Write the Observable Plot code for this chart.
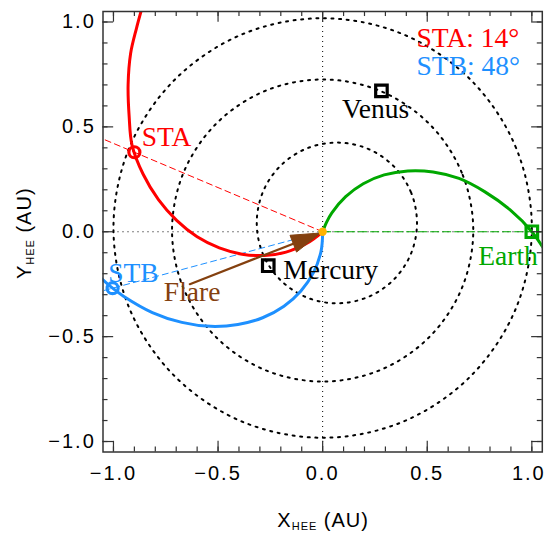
<!DOCTYPE html>
<html>
<head>
<meta charset="utf-8">
<script src="https://cdn.jsdelivr.net/npm/d3@7"></script>
<script src="https://cdn.jsdelivr.net/npm/@observablehq/plot@0.6"></script>
<style>
  body { margin: 0; background: #fff; }
  #chart svg { display: block; }
</style>
</head>
<body>
<div id="chart"></div>
<script>
// ---------------- data (HEE coordinates in AU) ----------------
const majorTicks = [-1.0, -0.5, 0.0, 0.5, 1.0];
const minorTicks = [-1.0, -0.9, -0.8, -0.7, -0.6, -0.5, -0.4, -0.3, -0.2, -0.1, 0.0,
                    0.1, 0.2, 0.3, 0.4, 0.5, 0.6, 0.7, 0.8, 0.9, 1.0];

// planetary orbits (dotted), points read along each orbit
const mercuryOrbitX = [0.451, 0.422, 0.339, 0.215, 0.068, -0.079, -0.203, -0.286, -0.315, -0.286, -0.203, -0.079, 0.068, 0.215, 0.339, 0.422];
const mercuryOrbitY = [0.042, 0.189, 0.313, 0.396, 0.425, 0.396, 0.313, 0.189, 0.042, -0.105, -0.229, -0.312, -0.341, -0.312, -0.229, -0.105];
const venusOrbitX = [0.720, 0.665, 0.509, 0.276, 0.000, -0.276, -0.509, -0.665, -0.720, -0.665, -0.509, -0.276, 0.000, 0.276, 0.509, 0.665];
const venusOrbitY = [0.006, 0.282, 0.515, 0.671, 0.726, 0.671, 0.515, 0.282, 0.006, -0.270, -0.503, -0.659, -0.714, -0.659, -0.503, -0.270];
const earthOrbitX = [1.000, 0.924, 0.707, 0.383, 0.000, -0.383, -0.707, -0.924, -1.000, -0.924, -0.707, -0.383, 0.000, 0.383, 0.707, 0.924];
const earthOrbitY = [0.018, 0.401, 0.725, 0.942, 1.018, 0.942, 0.725, 0.401, 0.018, -0.365, -0.689, -0.906, -0.982, -0.906, -0.689, -0.365];

// magnetic-field spirals from the Sun
const staSpiralX = [0, -0.039, -0.081, -0.175, -0.278, -0.385, -0.494, -0.600, -0.698, -0.785, -0.858, -0.911, -0.925, -0.930, -0.918, -0.890, -0.860];
const staSpiralY = [0, -0.031, -0.058, -0.097, -0.113, -0.107, -0.077, -0.024, 0.054, 0.153, 0.274, 0.412, 0.550, 0.700, 0.850, 0.970, 1.080];
const stbSpiralX = [0, -0.002, -0.009, -0.044, -0.104, -0.185, -0.287, -0.405, -0.535, -0.673, -0.814, -0.952, -1.004, -1.082];
const stbSpiralY = [0, -0.050, -0.100, -0.195, -0.282, -0.355, -0.410, -0.442, -0.451, -0.432, -0.385, -0.307, -0.269, -0.200];
const earthSpiralX = [0, 0.019, 0.044, 0.110, 0.194, 0.294, 0.407, 0.528, 0.652, 0.776, 0.895, 1.000, 1.092];
const earthSpiralY = [0, 0.046, 0.090, 0.167, 0.229, 0.271, 0.290, 0.285, 0.254, 0.190, 0.105, 0.000, -0.136];

// bodies
const planetNames = ["Mercury", "Venus", "Earth"];
const planetX = [-0.260, 0.281, 1.000];
const planetY = [-0.162, 0.672, 0.000];
const craftNames = ["STA", "STB"];
const craftX = [-0.900, -1.004];
const craftY = [0.379, -0.269];
const craftSeparation = [14, 48];
const sunX = [0.0];
const sunY = [0.0];

// flare arrow (tail -> tip)
const flareX = [-0.635, -0.010];
const flareY = [-0.250, -0.006];

// text labels (anchor = start of baseline)
const labelNames = ["STA", "STB", "Flare", "Mercury", "Venus", "Earth"];
const labelX = [-0.865, -1.025, -0.759, -0.188, 0.092, 0.744];
const labelY = [0.407, -0.239, -0.329, -0.226, 0.543, -0.158];
const legendX = [0.449, 0.449];
const legendY = [0.880, 0.745];

// ---------------- styles ----------------
const RED = "#ff0000", BLUE = "#1e90ff", GREEN = "#00a800", BROWN = "#84400f", SUN = "#ffb300", INK = "#333333";
const colorOf = {STA: RED, STB: BLUE, Earth: GREEN, Mercury: "#000000", Venus: "#000000", Flare: BROWN};
const SERIF = "'Liberation Serif', 'Times New Roman', serif";
const LABEL_SIZE = 27.5;

// ---------------- tables built from the arrays ----------------
const toPts = (xs, ys, id) => xs.map((x, i) => ({id, x, y: ys[i]}));
const orbits = [
  ...toPts(mercuryOrbitX, mercuryOrbitY, "Mercury"),
  ...toPts(venusOrbitX, venusOrbitY, "Venus"),
  ...toPts(earthOrbitX, earthOrbitY, "Earth")
];
const staSpiral = toPts(staSpiralX, staSpiralY, "STA");
const stbSpiral = toPts(stbSpiralX, stbSpiralY, "STB");
const earthSpiral = toPts(earthSpiralX, earthSpiralY, "Earth");
const planets = planetNames.map((name, i) => ({name, x: planetX[i], y: planetY[i]}));
const crafts = craftNames.map((name, i) => ({name, x: craftX[i], y: craftY[i], sep: craftSeparation[i]}));
const sun = sunX.map((x, i) => ({x, y: sunY[i]}));

// sight lines from the Sun through each body (extended, clipped by the frame)
const EXT = 1.25;
const sightLine = (b) => [{x: sunX[0], y: sunY[0]}, {x: sunX[0] + (b.x - sunX[0]) * EXT, y: sunY[0] + (b.y - sunY[0]) * EXT}];
const staLine = sightLine(crafts[0]);
const stbLine = sightLine(crafts[1]);
const earthLine = sightLine(planets[2]);

// flare arrow geometry (filled head)
const HEAD_LEN = 0.14, HEAD_HALF = 0.043;
const dx = flareX[1] - flareX[0], dy = flareY[1] - flareY[0];
const len = Math.hypot(dx, dy), ux = dx / len, uy = dy / len;
const baseX = flareX[1] - HEAD_LEN * ux, baseY = flareY[1] - HEAD_LEN * uy;
const shaft = [{x: flareX[0], y: flareY[0]}, {x: baseX, y: baseY}];
const head = [
  {x: flareX[1], y: flareY[1]},
  {x: baseX - HEAD_HALF * uy, y: baseY + HEAD_HALF * ux},
  {x: baseX + HEAD_HALF * uy, y: baseY - HEAD_HALF * ux},
  {x: flareX[1], y: flareY[1]}
];

const labels = labelNames.map((name, i) => ({name, x: labelX[i], y: labelY[i]}));
const legend = crafts.map((c, i) => ({name: c.name, text: `${c.name}: ${c.sep}°`, x: legendX[i], y: legendY[i]}));

const fmt = d => (d < 0 ? "\u2212" : "") + Math.abs(d).toFixed(1);
const X0 = -1.05, X1 = 1.05, Y0 = -1.05, Y1 = 1.05;
const MAJ = 0.051, MIN = 0.024;
const lastTick = majorTicks[majorTicks.length - 1];

const plot = Plot.plot({
  width: 547,
  height: 539,
  marginLeft: 102.5,
  marginRight: 5.2,
  marginTop: 11,
  marginBottom: 87.5,
  x: {domain: [X0, X1], axis: null},
  y: {domain: [Y0, Y1], axis: null},
  color: {type: "identity"},
  style: {fontFamily: "'Liberation Sans', Arial, sans-serif", fontSize: "20px", background: "#ffffff", color: "#000000"},
  marks: [
    // orbits
    Plot.line(orbits, {x: "x", y: "y", z: "id", curve: "catmull-rom-closed", stroke: "#000", strokeWidth: 2, strokeDasharray: "2,5.6", clip: true}),
    // axes through the Sun
    Plot.ruleX([0], {stroke: "#000", strokeWidth: 1, strokeDasharray: "1,4"}),
    Plot.ruleY([0], {stroke: "#000", strokeWidth: 1, strokeDasharray: "1,4"}),
    // sight lines
    Plot.line(staLine, {x: "x", y: "y", stroke: RED, strokeWidth: 1, strokeDasharray: "6,4", clip: true}),
    Plot.line(stbLine, {x: "x", y: "y", stroke: BLUE, strokeWidth: 1, strokeDasharray: "6,4", clip: true}),
    Plot.line(earthLine, {x: "x", y: "y", stroke: GREEN, strokeWidth: 1.2, strokeDasharray: "8,4", clip: true}),
    // spirals
    Plot.line(staSpiral, {x: "x", y: "y", curve: "catmull-rom", stroke: RED, strokeWidth: 3, clip: true}),
    Plot.line(stbSpiral, {x: "x", y: "y", curve: "catmull-rom", stroke: BLUE, strokeWidth: 3, clip: true}),
    Plot.line(earthSpiral, {x: "x", y: "y", curve: "catmull-rom", stroke: GREEN, strokeWidth: 3, clip: true}),
    // flare arrow
    Plot.line(shaft, {x: "x", y: "y", stroke: BROWN, strokeWidth: 2.2}),
    Plot.line(head, {x: "x", y: "y", stroke: BROWN, fill: BROWN, strokeWidth: 1, strokeLinejoin: "miter"}),
    // bodies
    Plot.dot(planets, {x: "x", y: "y", symbol: "square", r: 6.5, stroke: d => colorOf[d.name], fill: "none", strokeWidth: 3.2, clip: true}),
    Plot.dot(crafts, {x: "x", y: "y", r: 5.5, stroke: d => colorOf[d.name], fill: "none", strokeWidth: 3.2}),
    Plot.dot(sun, {x: "x", y: "y", r: 4.2, fill: SUN, stroke: "none"}),
    // labels
    Plot.text(labels, {x: "x", y: "y", text: "name", fill: d => colorOf[d.name], textAnchor: "start", lineAnchor: "bottom",
      fontFamily: SERIF, fontSize: LABEL_SIZE}),
    Plot.text(legend, {x: "x", y: "y", text: "text", fill: d => colorOf[d.name], textAnchor: "start", lineAnchor: "bottom",
      fontFamily: SERIF, fontSize: LABEL_SIZE}),
    // frame and inward ticks on all four sides
    Plot.frame({stroke: INK, strokeWidth: 1.5}),
    Plot.ruleX(minorTicks, {x: d => d, y1: Y0, y2: Y0 + MIN, stroke: INK, strokeWidth: 1.2}),
    Plot.ruleX(minorTicks, {x: d => d, y1: Y1, y2: Y1 - MIN, stroke: INK, strokeWidth: 1.2}),
    Plot.ruleY(minorTicks, {y: d => d, x1: X0, x2: X0 + MIN, stroke: INK, strokeWidth: 1.2}),
    Plot.ruleY(minorTicks, {y: d => d, x1: X1, x2: X1 - MIN, stroke: INK, strokeWidth: 1.2}),
    Plot.ruleX(majorTicks, {x: d => d, y1: Y0, y2: Y0 + MAJ, stroke: INK, strokeWidth: 1.2}),
    Plot.ruleX(majorTicks, {x: d => d, y1: Y1, y2: Y1 - MAJ, stroke: INK, strokeWidth: 1.2}),
    Plot.ruleY(majorTicks, {y: d => d, x1: X0, x2: X0 + MAJ, stroke: INK, strokeWidth: 1.2}),
    Plot.ruleY(majorTicks, {y: d => d, x1: X1, x2: X1 - MAJ, stroke: INK, strokeWidth: 1.2}),
    // tick labels (the last one nudged so it stays inside the picture)
    Plot.axisX({ticks: majorTicks.filter(d => d !== lastTick), anchor: "bottom", tickSize: 0, tickPadding: 13.5, tickFormat: fmt, label: null}),
    Plot.axisX({ticks: [lastTick], anchor: "bottom", tickSize: 0, tickPadding: 13.5, tickFormat: fmt, label: null, dx: -3}),
    Plot.axisY({ticks: majorTicks, anchor: "left", tickSize: 0, tickPadding: 7.2, tickFormat: fmt, label: null})
  ]
});

document.getElementById("chart").appendChild(plot);

// letter spacing for the IDL-like tick labels
d3.select(plot).selectAll('g[aria-label="x-axis tick label"], g[aria-label="y-axis tick label"]')
  .style("letter-spacing", "2px");

// axis titles with subscripts
const sx = plot.scale("x"), sy = plot.scale("y");
const svg = d3.select(plot);
function title(g, main) {
  const t = g.append("text")
    .attr("text-anchor", "middle")
    .attr("font-family", "'Liberation Sans', Arial, sans-serif")
    .attr("font-size", 20)
    .attr("fill", "#000")
    .style("letter-spacing", "1px");
  t.append("tspan").text(main);
  t.append("tspan").attr("font-size", 11).attr("dy", 3).text("HEE");
  t.append("tspan").attr("dy", -3).text("\u00a0(AU)");
  return t;
}
title(svg.append("g").attr("transform", `translate(${sx.apply(0) + 1},527)`), "X");
title(svg.append("g").attr("transform", `translate(31,${sy.apply(0) + 2}) rotate(-90)`), "Y");
</script>
</body>
</html>
